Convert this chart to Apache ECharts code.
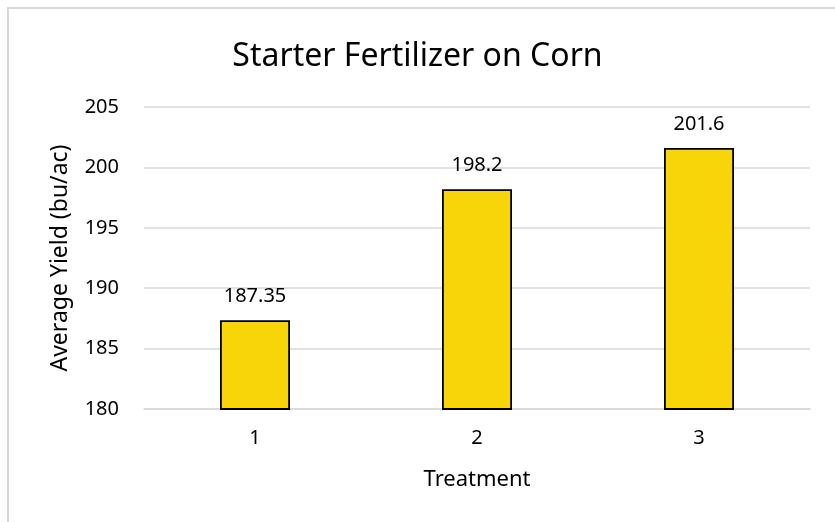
<!DOCTYPE html>
<html lang="en">
<head>
  <meta charset="UTF-8">
  <title>Starter Fertilizer on Corn</title>
  <script src="https://cdn.jsdelivr.net/npm/echarts@6/dist/echarts.min.js"></script>
  <style>
    html, body { margin: 0; padding: 0; background: #fff; }
    #main { width: 835px; height: 522px; }
  </style>
</head>
<body>
  <div id="main"></div>
  <script>
    // data
    var treatments = ['1', '2', '3'];
    var avgYield = [187.35, 198.2, 201.6];
    var yTicks = [180, 185, 190, 195, 200, 205];

    var font = "'Noto Sans', 'Open Sans', sans-serif";
    var chart = echarts.init(document.getElementById('main'));

    var option = {
      animation: false,
      textStyle: { fontFamily: font },
      graphic: [{
        type: 'rect',
        shape: { x: 8, y: 8, width: 840, height: 530 },
        style: { fill: 'none', stroke: '#d9d9d9', lineWidth: 2 }
      }],
      title: {
        text: 'Starter Fertilizer on Corn',
        left: 'center',
        top: 36,
        textStyle: { fontSize: 32, fontWeight: 'normal', color: '#000', fontFamily: font }
      },
      grid: { left: 144, right: 25, top: 107, bottom: 113 },
      xAxis: {
        type: 'category',
        data: treatments,
        name: 'Treatment',
        nameLocation: 'middle',
        nameGap: 60,
        nameTextStyle: { fontSize: 22, color: '#000' },
        axisLine: { lineStyle: { color: '#d9d9d9', width: 1.5 } },
        axisTick: { show: false },
        axisLabel: { fontSize: 20, color: '#000', margin: 19 }
      },
      yAxis: {
        type: 'value',
        min: yTicks[0],
        max: yTicks[yTicks.length - 1],
        interval: 5,
        name: 'Average Yield (bu/ac)',
        nameLocation: 'middle',
        nameGap: 72,
        nameTextStyle: { fontSize: 23, color: '#000' },
        axisLine: { show: false },
        axisTick: { show: false },
        axisLabel: { fontSize: 20, color: '#000', margin: 25 },
        splitLine: { lineStyle: { color: '#d9d9d9', width: 1.5 } }
      },
      series: [{
        type: 'bar',
        data: avgYield,
        barWidth: 70,
        itemStyle: { color: '#F8D508', borderColor: '#000', borderWidth: 1.8 },
        label: {
          show: true,
          position: 'top',
          distance: 14,
          fontSize: 20,
          color: '#000'
        }
      }]
    };

    chart.setOption(option);
  </script>
</body>
</html>
